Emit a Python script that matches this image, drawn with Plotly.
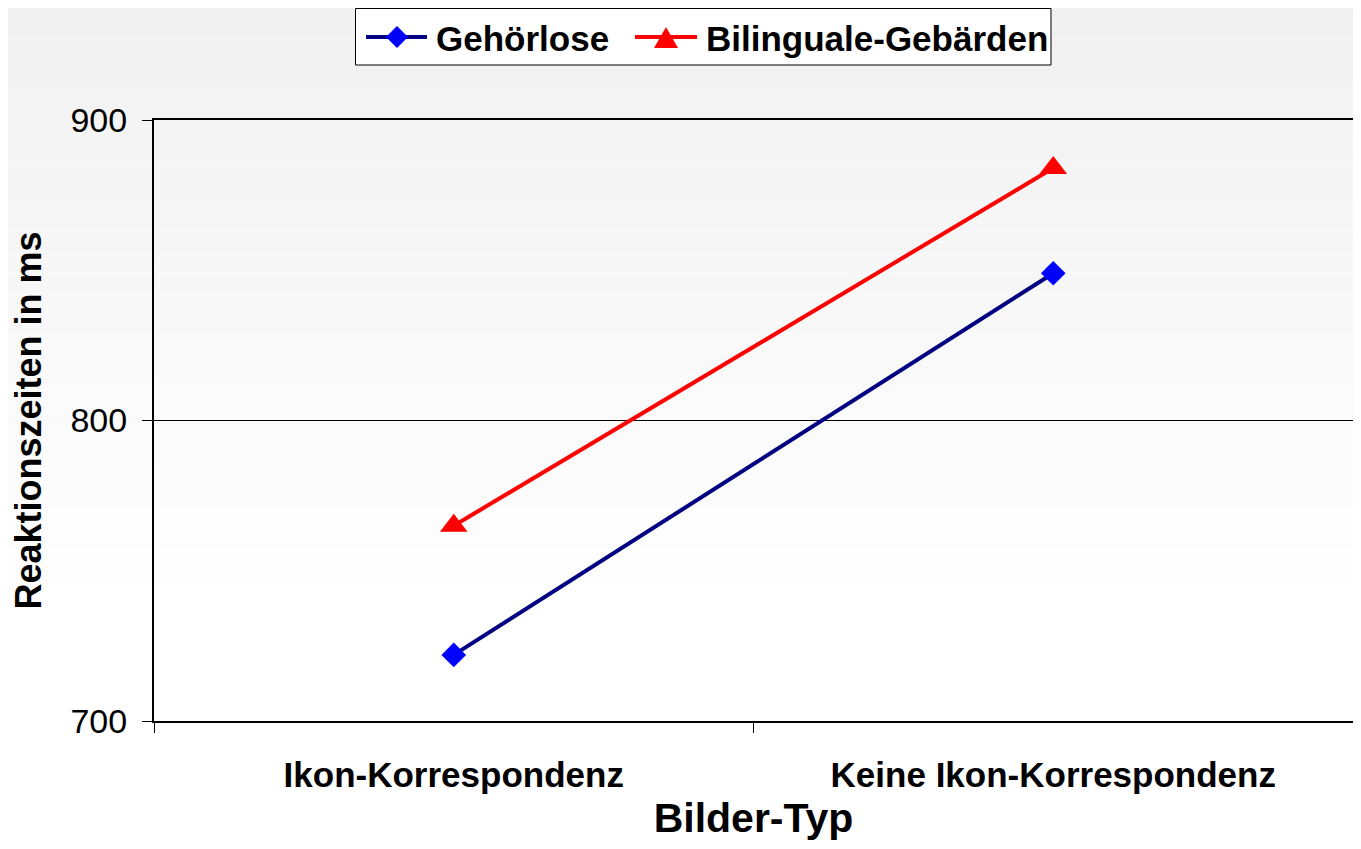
import plotly.graph_objects as go

categories = ["Ikon-Korrespondenz", "Keine Ikon-Korrespondenz"]
gehoerlose = [722, 849]
bilinguale = [765, 884]
series_names = ["Gehörlose", "Bilinguale-Gebärden"]

FONT = "Liberation Sans, Arial, sans-serif"
W, H = 1345, 833
L, R, T, B = 146, 0, 112, 120
OFF = 8  # page body margin
ph = H - T - B
pw = W - L - R


def px(x):  # page pixel x -> paper
    return (x - OFF - L) / pw


def py(y):  # page pixel y -> paper
    return 1 - (y - OFF - T) / ph


fig = go.Figure()
fig.add_trace(go.Scatter(
    x=categories, y=gehoerlose, name=series_names[0], mode="lines+markers",
    line=dict(color="#000080", width=4),
    marker=dict(symbol="diamond", size=19, color="#0000FF", line=dict(width=0)),
))
fig.add_trace(go.Scatter(
    x=categories, y=bilinguale, name=series_names[1], mode="lines+markers",
    line=dict(color="#FF0000", width=4),
    marker=dict(symbol="triangle-up", size=24, color="#FF0000", line=dict(width=0)),
))

# background vertical gradient via thin bands
shapes = []
nb = 60
grad_end = 610
for i in range(nb):
    y0 = grad_end * i / nb
    y1 = grad_end * (i + 1) / nb
    c = int(round(241 + (255 - 241) * (i / (nb - 1))))
    shapes.append(dict(
        type="rect", xref="paper", yref="paper", layer="below",
        x0=-L / pw - 0.01, x1=1.01,
        y0=1 + (T - y1) / ph, y1=1 + (T - y0) / ph,
        fillcolor=f"rgb({c},{c},{c})", line=dict(width=0),
    ))

# custom legend (box, line samples, marker samples)
shapes.append(dict(type="rect", xref="paper", yref="paper", layer="above",
                   x0=px(355.5), x1=px(1051), y0=py(65), y1=py(8.5),
                   fillcolor="white", line=dict(color="black", width=1)))
shapes.append(dict(type="line", xref="paper", yref="paper", layer="above",
                   x0=px(366), x1=px(427), y0=py(37), y1=py(37),
                   line=dict(color="#000080", width=4)))
shapes.append(dict(type="path", xref="paper", yref="paper", layer="above",
                   path=f"M {px(397)} {py(26)} L {px(408)} {py(37)} L {px(397)} {py(48)} L {px(386)} {py(37)} Z",
                   fillcolor="#0000FF", line=dict(width=0)))
shapes.append(dict(type="line", xref="paper", yref="paper", layer="above",
                   x0=px(635), x1=px(697), y0=py(37), y1=py(37),
                   line=dict(color="#FF0000", width=4)))
shapes.append(dict(type="path", xref="paper", yref="paper", layer="above",
                   path=f"M {px(654)} {py(48)} L {px(678)} {py(48)} L {px(666)} {py(27)} Z",
                   fillcolor="#FF0000", line=dict(width=0)))

annotations = [
    dict(text=series_names[0], xref="paper", yref="paper", x=px(434), y=py(38),
         xanchor="left", yanchor="middle", showarrow=False,
         font=dict(family=FONT, size=35, color="black", weight="bold")),
    dict(text=series_names[1], xref="paper", yref="paper", x=px(704), y=py(38),
         xanchor="left", yanchor="middle", showarrow=False,
         font=dict(family=FONT, size=35, color="black", weight="bold")),
]

fig.update_layout(
    width=W, height=H,
    margin=dict(l=L, r=R, t=T, b=B, autoexpand=False),
    paper_bgcolor="white",
    plot_bgcolor="rgba(0,0,0,0)",
    shapes=shapes,
    annotations=annotations,
    font=dict(family=FONT, color="black"),
    showlegend=False,
    xaxis=dict(
        type="category", range=[-0.5, 1.5],
        showline=True, linecolor="black", linewidth=2, mirror=True,
        ticks="outside", ticklen=10, tickcolor="black", tickwidth=1,
        tickson="boundaries", showgrid=False,
        tickfont=dict(family=FONT, size=35, color="black", weight="bold"),
        ticklabelstandoff=22,
        title=dict(text="Bilder-Typ", font=dict(family=FONT, size=41, color="black", weight="bold"), standoff=12),
    ),
    yaxis=dict(
        range=[700, 900], tickvals=[700, 800, 900],
        showline=True, linecolor="black", linewidth=2, mirror=True,
        ticks="outside", ticklen=10, tickcolor="black", tickwidth=1,
        showgrid=True, gridcolor="black", gridwidth=1, zeroline=False,
        tickfont=dict(family=FONT, size=34, color="black"),
        ticklabelstandoff=8,
        title=dict(text="Reaktionszeiten in ms", font=dict(family=FONT, size=36, color="black", weight="bold"), standoff=18),
    ),
)

fig.write_html("out.html")
